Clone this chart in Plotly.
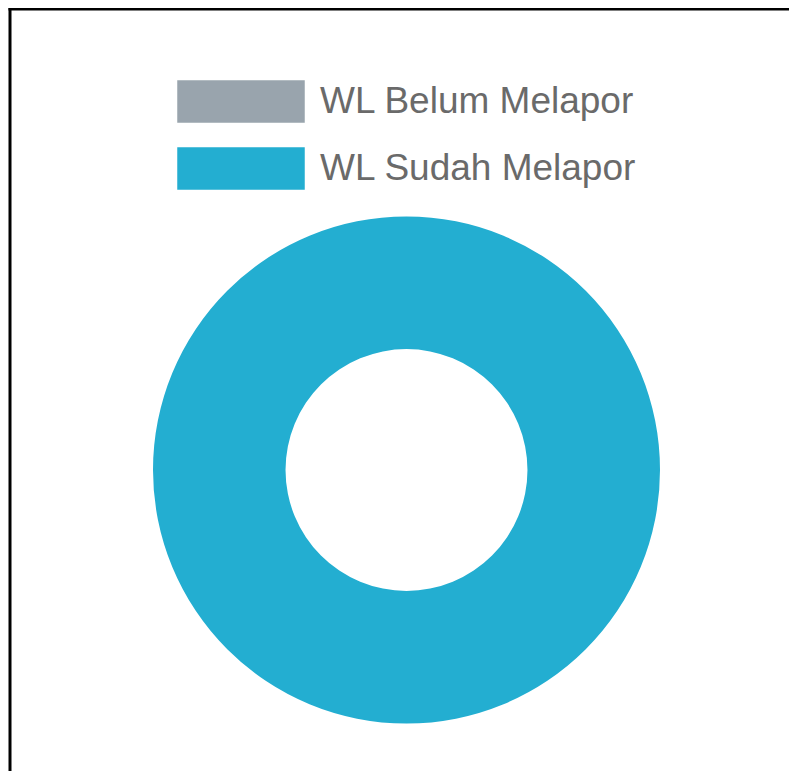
import plotly.graph_objects as go

labels = ["WL Belum Melapor", "WL Sudah Melapor"]
values = [0, 100]
colors = ["#99a4ad", "#23aed1"]

OFF = 8  # page body margin
W, H = 797 - OFF, 771 - OFF

def px(x):
    return (x - OFF) / W

def py(y):
    return (H - (y - OFF)) / H

fig = go.Figure()
fig.add_trace(go.Pie(
    labels=labels, values=values, hole=0.477, sort=False, direction="clockwise",
    marker=dict(colors=colors, line=dict(color="#ffffff", width=0)),
    textinfo="none", hoverinfo="label+value", showlegend=False,
    domain=dict(x=[px(153), px(660)], y=[py(723.5), py(216.5)]),
))

# custom legend (large Chart.js-style swatches)
swatch_tops = [80, 147]
for lab, col, top in zip(labels, colors, swatch_tops):
    fig.add_shape(type="rect", xref="paper", yref="paper",
                  x0=px(177), x1=px(305), y0=py(top), y1=py(top + 43),
                  fillcolor=col, line=dict(color="rgba(255,255,255,0.5)", width=1))
    fig.add_annotation(xref="paper", yref="paper", x=px(318), y=py(top + 20.5),
                       text=lab, showarrow=False, xanchor="left", yanchor="middle",
                       font=dict(family="Liberation Sans, Arial, sans-serif", size=37, color="#6a6a6a"))

# frame lines
fig.add_shape(type="line", xref="paper", yref="paper", x0=px(10), x1=px(10), y0=py(8), y1=py(780),
              line=dict(color="black", width=3))
fig.add_shape(type="line", xref="paper", yref="paper", x0=px(8.5), x1=px(794), y0=py(9), y1=py(9),
              line=dict(color="black", width=3))

fig.update_layout(width=W, height=H, margin=dict(l=0, r=0, t=0, b=0),
                  paper_bgcolor="white", plot_bgcolor="white", showlegend=False)

fig.write_html("out.html")
